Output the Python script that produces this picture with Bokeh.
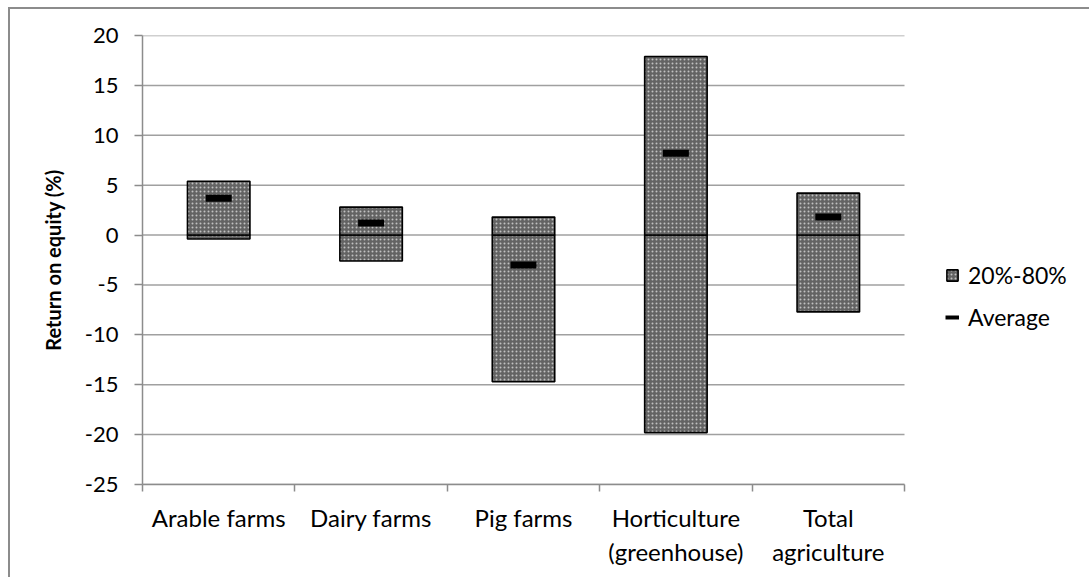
from bokeh.plotting import figure
from bokeh.models import Range1d, FixedTicker, Legend, LegendItem, ColumnDataSource
from bokeh.embed import file_html
from bokeh.resources import INLINE

# Return on equity (%) by farm type: 20th and 80th percentiles and the average
categories = ["Arable farms", "Dairy farms", "Pig farms",
              "Horticulture\n(greenhouse)", "Total\nagriculture"]
pct20 = [-0.4, -2.6, -14.7, -19.8, -7.7]
pct80 = [5.4, 2.8, 1.8, 17.9, 4.2]
average = [3.7, 1.2, -3.0, 8.2, 1.8]
y_ticks = [-25, -20, -15, -10, -5, 0, 5, 10, 15, 20]

FONT = "Lato"
n = len(categories)
centers = [i + 0.5 for i in range(n)]
half = 0.205

# the frame runs to the right edge so the legend can sit beside the bars;
# axis and gridlines only span the categories
PLOT_W, LEFT = 1081, 132
CAT_PX = 152.4
x_end = (PLOT_W - LEFT) / CAT_PX

p = figure(width=PLOT_W, height=570, x_range=Range1d(0, x_end), y_range=Range1d(-25, 20),
           output_backend="svg", toolbar_location=None,
           min_border_left=LEFT, min_border_right=0,
           min_border_top=26, min_border_bottom=95)
p.styles = {"border-top": "2px solid #8c8c8c", "border-left": "2px solid #8c8c8c",
            "margin-left": "8px", "margin-top": "7px"}
p.outline_line_color = None
p.background_fill_color = "white"
p.border_fill_color = "white"
p.grid.visible = False

# horizontal gridlines across the category span
p.segment(x0=[0] * len(y_ticks), x1=[n] * len(y_ticks), y0=y_ticks, y1=y_ticks,
          line_color="#a0a0a0", line_width=1.5, level="underlay")

# floating bars, split at zero so the zero line shows through
lower = ColumnDataSource(dict(
    left=[c - half for c in centers], right=[c + half for c in centers],
    bottom=pct20, top=[min(0, v) if lo < 0 else lo for v, lo in zip(pct80, pct20)]))
upper = ColumnDataSource(dict(
    left=[c - half for c in centers], right=[c + half for c in centers],
    bottom=[max(0, lo) for lo in pct20], top=pct80))

bar_style = dict(fill_color="#636363", hatch_pattern="dot", hatch_color="white",
                 hatch_scale=4, hatch_weight=1.3, hatch_alpha=0.6,
                 line_color="black", line_width=1.6)
p.quad(source=lower, **bar_style)
bars = p.quad(source=upper, **bar_style)

avg_src = ColumnDataSource(dict(x=centers, y=average))
p.rect(x="x", y="y", width=26, height=7, width_units="screen", height_units="screen",
       source=avg_src, fill_color="black", line_color=None)
# legend key for the average marker (kept outside the visible range)
avg_key = p.line(x=[-10, -9], y=[-100, -100], line_color="black", line_width=4)

# axes
AX = "#8c8c8c"
p.yaxis.ticker = FixedTicker(ticks=y_ticks)
p.yaxis.major_label_overrides = {v: str(v) for v in y_ticks}
p.yaxis.major_tick_out = 8
p.yaxis.major_tick_in = 0
p.yaxis.minor_tick_out = 0
p.yaxis.minor_tick_in = 0
p.yaxis.major_label_standoff = 16
p.yaxis.major_label_text_font_size = "22px"
p.yaxis.axis_label = "Return on equity (%)"
p.yaxis.axis_label_text_font = FONT
p.yaxis.axis_label_text_font_style = "bold"
p.yaxis.axis_label_text_font_size = "20px"
p.yaxis.axis_label_text_color = "black"
p.yaxis.axis_label_standoff = 17

p.xaxis.bounds = (0, n)
p.xaxis.ticker = FixedTicker(ticks=centers, minor_ticks=list(range(n + 1)))
p.xaxis.major_label_overrides = {c: lab for c, lab in zip(centers, categories)}
p.xaxis.major_tick_out = 0
p.xaxis.major_tick_in = 0
p.xaxis.minor_tick_out = 7
p.xaxis.minor_tick_in = 0
p.xaxis.major_label_standoff = 11
p.xaxis.major_label_text_font_size = "24px"

for ax in (p.xaxis, p.yaxis):
    ax.axis_line_color = AX
    ax.axis_line_width = 1.5
    ax.major_tick_line_color = AX
    ax.minor_tick_line_color = AX
    ax.major_tick_line_width = 1.5
    ax.minor_tick_line_width = 1.5
    ax.major_label_text_font = FONT
    ax.major_label_text_color = "black"

legend = Legend(items=[LegendItem(label="20%-80%", renderers=[bars]),
                       LegendItem(label="Average", renderers=[avg_key])],
                location=(803, 153), orientation="vertical",
                glyph_width=14, glyph_height=14, label_height=26, spacing=14,
                padding=0, margin=0, border_line_color=None,
                background_fill_alpha=0, label_standoff=9,
                label_text_font=FONT, label_text_font_size="23px",
                label_text_color="black")
p.add_layout(legend)

open("out.html", "w").write(file_html(p, INLINE))
